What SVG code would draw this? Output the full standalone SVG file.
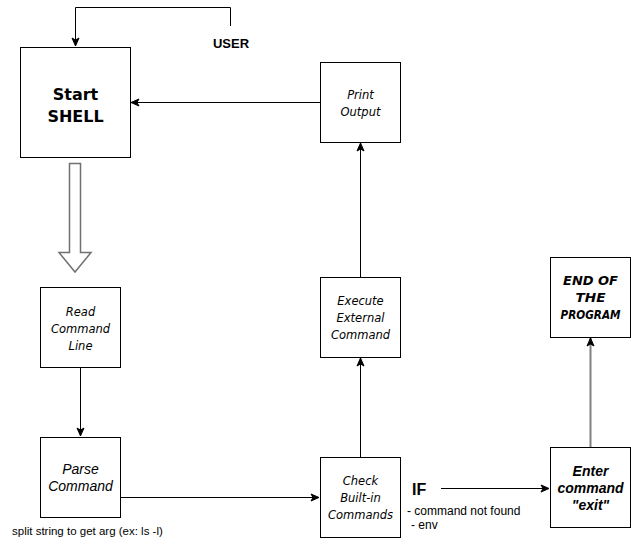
<svg xmlns="http://www.w3.org/2000/svg" width="631" height="548" viewBox="0 0 631 548">
<style>
.box{fill:#fff;stroke:#000;stroke-width:1}
.comic{font-family:"DejaVu Sans",sans-serif;font-style:italic;font-size:11.5px;text-anchor:middle;fill:#000}
.comicb{font-family:"DejaVu Sans",sans-serif;font-weight:bold;font-size:16px;text-anchor:middle;fill:#000}
.comicbi{font-family:"DejaVu Sans",sans-serif;font-weight:bold;font-style:italic;font-size:12px;text-anchor:middle;fill:#000}
.arial{font-family:"Liberation Sans",Arial,sans-serif;fill:#000}
.conn{fill:none;stroke:#000;stroke-width:1}
</style>
<defs>
<marker id="ah" markerUnits="userSpaceOnUse" markerWidth="10" markerHeight="10" viewBox="0 0 10 10" refX="9" refY="5" orient="auto">
<path d="M1,1.5 L9,5 L1,8.5 L3,5 z" fill="#000" stroke="#000" stroke-width="1"/>
</marker>
</defs>
<rect width="631" height="548" fill="#fff"/>
<g id="connectors">
<path class="conn" d="M230.5,26 L230.5,7.5 L75.5,7.5 L75.5,46" marker-end="url(#ah)"/>
<path class="conn" d="M320,102.5 L131,102.5" marker-end="url(#ah)"/>
<path class="conn" d="M360.5,277 L360.5,143" marker-end="url(#ah)"/>
<path class="conn" d="M80.5,367 L80.5,436" marker-end="url(#ah)"/>
<path class="conn" d="M120,497.5 L319,497.5" marker-end="url(#ah)"/>
<path class="conn" d="M360.5,457 L360.5,358" marker-end="url(#ah)"/>
<path class="conn" d="M441,488.5 L549,488.5" marker-end="url(#ah)"/>
<path fill="none" stroke="#808080" stroke-width="2" d="M590.5,447 L590.5,338" marker-end="url(#ah)"/>
<polygon points="69.5,163.5 80.5,163.5 80.5,252.5 91,252.5 75,272 59,252.5 69.5,252.5" fill="#fff" stroke="#707070" stroke-width="1.5"/>
</g>
<g id="user-label">
<text class="arial" x="231" y="48" font-size="13" font-weight="bold" text-anchor="middle">USER</text>
</g>
<g id="start-shell">
<rect class="box" x="20.5" y="47.5" width="110" height="110"/>
<text class="comicb" x="75.5" y="100">Start</text>
<text class="comicb" x="75.5" y="122">SHELL</text>
</g>
<g id="print-output">
<rect class="box" x="320.5" y="62.5" width="80" height="80"/>
<text class="comic" x="360.5" y="99" font-size="12">Print</text>
<text class="comic" x="360.5" y="116" font-size="12">Output</text>
</g>
<g id="read-command-line">
<rect class="box" x="40.5" y="287.5" width="80" height="80"/>
<text class="comic" x="80.5" y="316">Read</text>
<text class="comic" x="80.5" y="333">Command</text>
<text class="comic" x="80.5" y="350">Line</text>
</g>
<g id="parse-command">
<rect class="box" x="40.5" y="437.5" width="80" height="80"/>
<text class="arial" x="80.5" y="474" font-size="14" font-style="italic" text-anchor="middle">Parse</text>
<text class="arial" x="80.5" y="491" font-size="14" font-style="italic" text-anchor="middle">Command</text>
</g>
<g id="split-note">
<text class="arial" x="12" y="535" font-size="11.5">split string to get arg (ex: ls -l)</text>
</g>
<g id="check-builtin">
<rect class="box" x="320.5" y="457.5" width="80" height="80"/>
<text class="comic" x="360.5" y="485">Check</text>
<text class="comic" x="360.5" y="502">Built-in</text>
<text class="comic" x="360.5" y="519">Commands</text>
</g>
<g id="execute-external">
<rect class="box" x="320.5" y="277.5" width="80" height="80"/>
<text class="comic" x="360.5" y="305">Execute</text>
<text class="comic" x="360.5" y="322">External</text>
<text class="comic" x="360.5" y="339">Command</text>
</g>
<g id="if-label">
<text class="arial" x="412" y="495" font-size="16" font-weight="bold">IF</text>
<text class="arial" x="407" y="515" font-size="12">- command not found</text>
<text class="arial" x="411" y="529" font-size="12">- env</text>
</g>
<g id="end-program">
<rect class="box" x="550.5" y="257.5" width="80" height="80"/>
<text class="comicbi" x="590.5" y="285" textLength="55" lengthAdjust="spacingAndGlyphs">END OF</text>
<text class="comicbi" x="590.5" y="302" textLength="30" lengthAdjust="spacingAndGlyphs">THE</text>
<text class="comicbi" x="590.5" y="319" textLength="60" lengthAdjust="spacingAndGlyphs">PROGRAM</text>
</g>
<g id="enter-exit">
<rect class="box" x="550.5" y="447.5" width="80" height="80"/>
<text class="arial" x="590.5" y="476" font-size="14" font-weight="bold" font-style="italic" text-anchor="middle">Enter</text>
<text class="arial" x="590.5" y="493" font-size="14" font-weight="bold" font-style="italic" text-anchor="middle">command</text>
<text class="arial" x="590.5" y="510" font-size="14" font-weight="bold" font-style="italic" text-anchor="middle">"exit"</text>
</g>
</svg>
